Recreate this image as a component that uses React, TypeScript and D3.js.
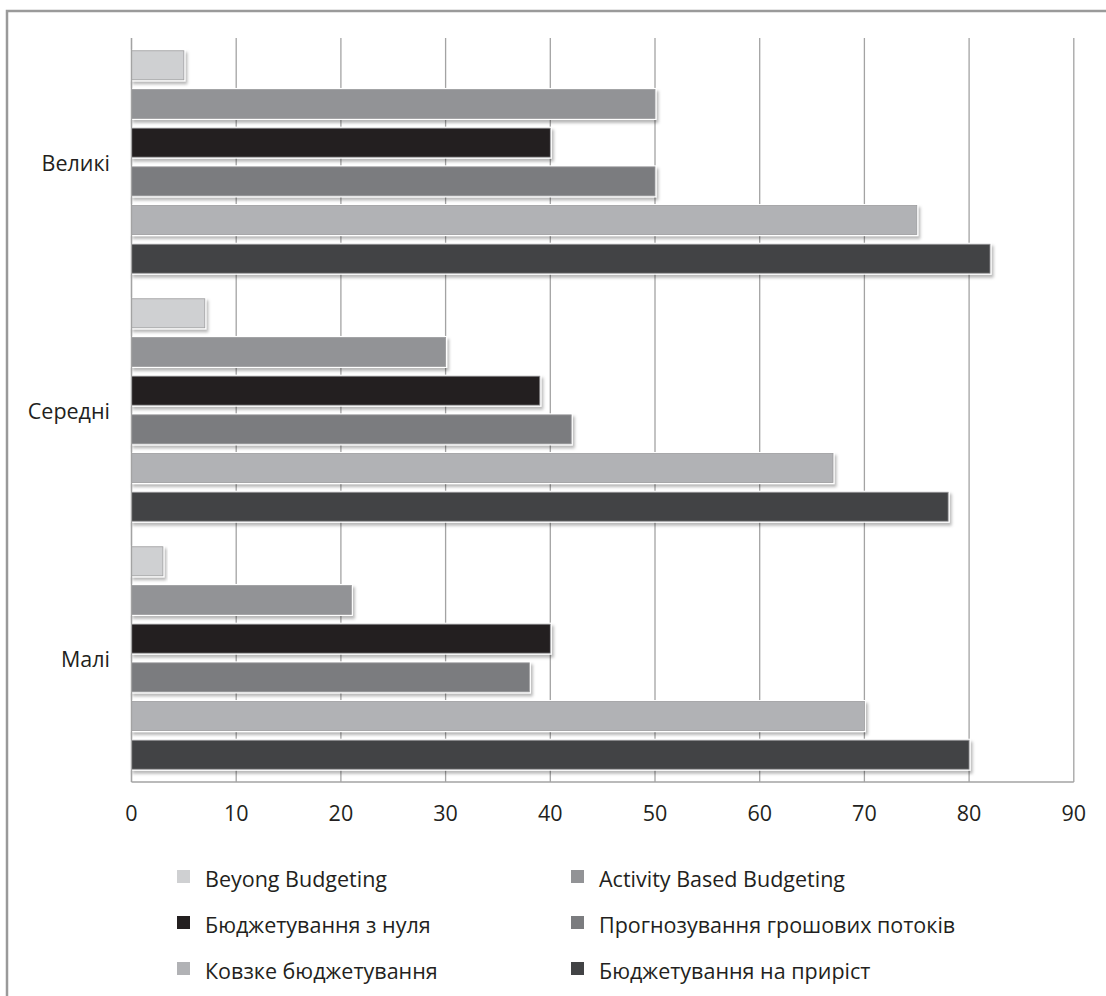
import React from 'react';
import * as d3 from 'd3';

// Company size groups, top to bottom
const categories = ['Великі', 'Середні', 'Малі'];

// Budgeting methods, in drawing order within each group (top to bottom)
const seriesNames = [
  'Beyong Budgeting',
  'Activity Based Budgeting',
  'Бюджетування з нуля',
  'Прогнозування грошових потоків',
  'Ковзке бюджетування',
  'Бюджетування на приріст',
];

// Values per method, aligned with categories
const beyondBudgeting = [5, 7, 3];
const activityBased = [50, 30, 21];
const zeroBased = [40, 39, 40];
const cashFlowForecast = [50, 42, 38];
const rollingBudget = [75, 67, 70];
const incrementalBudget = [82, 78, 80];

const seriesValues = [
  beyondBudgeting,
  activityBased,
  zeroBased,
  cashFlowForecast,
  rollingBudget,
  incrementalBudget,
];

const seriesColors = ['#cfd0d2', '#929396', '#231f20', '#7b7c7f', '#b1b2b5', '#424345'];

const xTicks = [0, 10, 20, 30, 40, 50, 60, 70, 80, 90];

const W = 1106;
const H = 996;
const plot = { left: 131.5, right: 1073.8, top: 38, bottom: 782 };
const FONT = '"Open Sans", "Noto Sans", sans-serif';
const FS = 21.5;
const TEXT = '#231f20';
const GRID = '#a3a3a3';

export default function App() {
  const x = d3.scaleLinear().domain([0, 90]).range([plot.left, plot.right]);
  const y0 = d3.scaleBand<string>().domain(categories).range([plot.top, plot.bottom]).padding(0);
  const y1 = d3
    .scaleBand<string>()
    .domain(seriesNames)
    .range([0, y0.bandwidth()])
    .paddingInner(0.25)
    .paddingOuter(0.33);

  const legendCols = [177, 571];
  const legendRows = [870, 916, 962];

  return (
    <svg
      width={W}
      height={H}
      style={{ position: 'absolute', left: 0, top: 0, background: '#fff' }}
      fontFamily={FONT}
    >
      <defs>
        <filter id="barShadow" x="-5%" y="-30%" width="115%" height="180%">
          <feDropShadow dx="2" dy="3" stdDeviation="1.6" floodColor="#000" floodOpacity="0.28" />
        </filter>
      </defs>

      {/* outer frame */}
      <rect x={7} y={11} width={W + 20} height={H + 20} fill="none" stroke="#9a9a9a" strokeWidth={2.5} />

      {/* vertical grid lines */}
      {xTicks.map((t) => (
        <line key={`g${t}`} x1={x(t)} x2={x(t)} y1={plot.top} y2={plot.bottom} stroke={GRID} strokeWidth={1.3} />
      ))}
      {/* bottom axis */}
      <line x1={plot.left} x2={plot.right} y1={plot.bottom} y2={plot.bottom} stroke={GRID} strokeWidth={1.3} />

      {/* bars */}
      {categories.map((cat, ci) => (
        <g key={cat} transform={`translate(0,${y0(cat)})`}>
          {seriesNames.map((s, si) => {
            const v = seriesValues[si][ci];
            const by = y1(s) as number;
            const bh = y1.bandwidth();
            const bw = x(v) - x(0);
            return (
              <g key={s}>
                <rect
                  x={x(0) - 1}
                  y={by - 1.5}
                  width={bw + 2.5}
                  height={bh + 3}
                  fill="#fff"
                  filter="url(#barShadow)"
                />
                <rect
                  x={x(0)}
                  y={by}
                  width={bw}
                  height={bh}
                  fill={seriesColors[si]}
                  stroke="#9c9c9e"
                  strokeWidth={0.8}
                />
              </g>
            );
          })}
        </g>
      ))}

      {/* left axis line */}
      <line x1={plot.left} x2={plot.left} y1={plot.top} y2={plot.bottom} stroke={GRID} strokeWidth={1.3} />

      {/* category labels */}
      {categories.map((cat) => (
        <text
          key={`c${cat}`}
          x={110}
          y={(y0(cat) as number) + y0.bandwidth() / 2 + 9}
          textAnchor="end"
          fontSize={FS}
          fill={TEXT}
        >
          {cat}
        </text>
      ))}

      {/* x tick labels */}
      {xTicks.map((t) => (
        <text key={`t${t}`} x={x(t)} y={821} textAnchor="middle" fontSize={FS} fill={TEXT}>
          {t}
        </text>
      ))}

      {/* legend */}
      {seriesNames.map((s, i) => {
        const col = i % 2;
        const row = Math.floor(i / 2);
        const lx = legendCols[col];
        const ly = legendRows[row];
        return (
          <g key={`l${s}`}>
            <rect x={lx} y={ly} width={13} height={13} fill={seriesColors[i]} />
            <text x={lx + 28} y={ly + 17} fontSize={FS} fill={TEXT}>
              {s}
            </text>
          </g>
        );
      })}
    </svg>
  );
}
